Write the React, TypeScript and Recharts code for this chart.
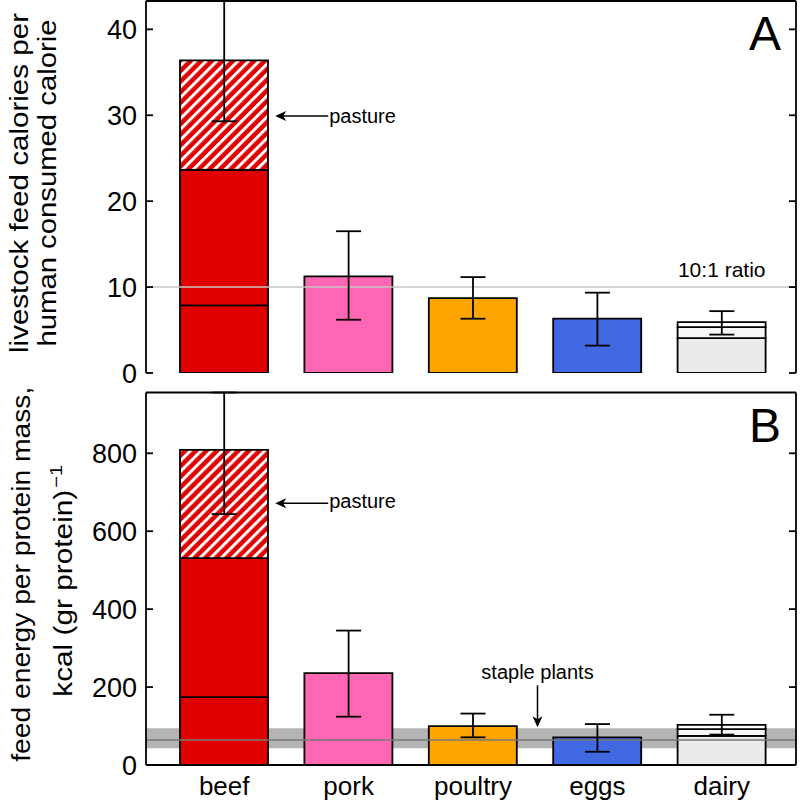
import React from 'react';
import {
  ComposedChart,
  Bar,
  Cell,
  XAxis,
  YAxis,
  Scatter,
  ErrorBar,
  ReferenceLine,
  ReferenceArea,
  ReferenceDot,
} from 'recharts';

const FONT = '"Liberation Sans", Arial, Helvetica, sans-serif';

const categories = ['beef', 'pork', 'poultry', 'eggs', 'dairy'];
const baseColors = ['#e00000', '#ff66b3', '#ffa500', '#4169e1', '#ebebeb'];
const midColors = ['#e00000', '#ffffff', '#ffffff', '#ffffff', '#f6f6f6'];
const topColors = ['hatch', '#ffffff', '#ffffff', '#ffffff', '#ffffff'];

// panel A: feed calories per human consumed calorie (cumulative stack levels)
const ratioBase = [7.87, 11.24, 8.72, 6.32, 4.07];
const ratioMid = [23.65, null, null, null, 5.35];
const ratioTop = [36.4, null, null, null, 5.93];
const ratioErrLow = [29.3, 6.2, 6.32, 3.19, 4.47];
const ratioErrHigh = [43.3, 16.5, 11.16, 9.35, 7.2]; // beef runs off the top
const ratioTicks = [0, 10, 20, 30, 40];
const ratioMax = 43.3;
const tenToOne = 10;
const ratioPasture = 29.9;

// panel B: feed energy per protein mass
const proteinBase = [174, 236, 100, 71, 74.5];
const proteinMid = [531, null, null, null, 92];
const proteinTop = [809, null, null, null, 103];
const proteinErrLow = [644, 124, 71, 34, 78];
const proteinErrHigh = [956, 345, 132, 105, 129]; // beef runs off the top
const proteinTicks = [0, 200, 400, 600, 800];
const proteinMax = 956;
const stapleBand = [43, 94];
const stapleLine = 64;
const proteinPasture = 672;

function buildRows(base: number[], mid: (number | null)[], top: (number | null)[], lo: number[], hi: number[]) {
  return categories.map((name, i) => {
    const m = mid[i];
    const t = top[i];
    const total = t ?? m ?? base[i];
    return {
      name,
      s1: base[i],
      s2: m != null ? m - base[i] : 0,
      s3: t != null ? t - (m ?? base[i]) : 0,
      total,
      err: [total - lo[i], hi[i] - total],
    };
  });
}

const ratioRows = buildRows(ratioBase, ratioMid, ratioTop, ratioErrLow, ratioErrHigh);
const proteinRows = buildRows(proteinBase, proteinMid, proteinTop, proteinErrLow, proteinErrHigh);

const LINE = 1.8;

function LeftTick({ x, y, payload }: any) {
  return (
    <g>
      <line x1={x + 9} x2={x + 16} y1={y} y2={y} stroke="#000" strokeWidth={LINE} />
      <text x={x} y={y + 9.5} textAnchor="end" fontSize={27} fontFamily={FONT} fill="#000">
        {payload.value}
      </text>
    </g>
  );
}

function RightTick({ x, y }: any) {
  return <line x1={x - 7} x2={x} y1={y} y2={y} stroke="#000" strokeWidth={LINE} />;
}

function PastureNote({ cx, cy, dy }: any) {
  return (
    <g>
      <line x1={cx + 58} x2={cx + 104} y1={cy} y2={cy} stroke="#000" strokeWidth={1.5} />
      <path d={`M${cx + 51},${cy} l11,-5 l-3,5 l3,5 z`} fill="#000" />
      <text x={cx + 105} y={cy + dy} fontSize={20} fontFamily={FONT} fill="#000">
        pasture
      </text>
    </g>
  );
}

function StapleNote({ cx, cy }: any) {
  const ax = cx + 64.5;
  return (
    <g>
      <line x1={ax} x2={ax} y1={cy - 43} y2={cy - 8} stroke="#000" strokeWidth={1.5} />
      <path d={`M${ax},${cy - 1} l-5,-11 l5,3 l5,-3 z`} fill="#000" />
      <text x={ax} y={cy - 49.5} textAnchor="middle" fontSize={20} fontFamily={FONT} fill="#000">
        staple plants
      </text>
    </g>
  );
}

function ratioTitle({ viewBox }: any) {
  const cy = viewBox.y + viewBox.height / 2 - 4;
  return (
    <g fontFamily={FONT} fill="#000" fontSize={25}>
      <text transform={`translate(27.5,${cy}) rotate(-90)`} textAnchor="middle" textLength={340} lengthAdjust="spacingAndGlyphs">
        livestock feed calories per
      </text>
      <text transform={`translate(55.5,${cy}) rotate(-90)`} textAnchor="middle" textLength={327} lengthAdjust="spacingAndGlyphs">
        human consumed calorie
      </text>
    </g>
  );
}

function proteinTitle({ viewBox }: any) {
  const cy = viewBox.y + viewBox.height / 2;
  return (
    <g fontFamily={FONT} fill="#000">
      <text transform={`translate(30,${cy - 4.5}) rotate(-90)`} textAnchor="middle" fontSize={25} textLength={375} lengthAdjust="spacingAndGlyphs">
        feed energy per protein mass,
      </text>
      <g transform={`translate(71.7,${cy + 118}) rotate(-90)`}>
        <text x={0} y={0} fontSize={25} textLength={207} lengthAdjust="spacingAndGlyphs">
          kcal (gr protein)
        </text>
        <text x={209} y={-10} fontSize={17} textLength={23} lengthAdjust="spacingAndGlyphs">
          −1
        </text>
      </g>
    </g>
  );
}

function panelLetter(letter: string) {
  return ({ viewBox }: any) => (
    <text x={viewBox.x - 31} y={viewBox.y + 49} textAnchor="middle" fontSize={48} fontFamily={FONT} fill="#000">
      {letter}
    </text>
  );
}

type PanelProps = {
  rows: any[];
  yMax: number;
  ticks: number[];
  hatchId: string;
  title: any;
  letter: string;
  height: number;
  top: number;
  bottom: number;
  showLabels: boolean;
  pastureY: number;
  pastureDy: number;
  ratioLine?: number;
  band?: number[];
  bandLine?: number;
};

function Panel(p: PanelProps) {
  const axisLine = { stroke: '#000', strokeWidth: LINE };
  const fillFor = (c: string) => (c === 'hatch' ? `url(#${p.hatchId})` : c);
  return (
    <ComposedChart
      width={800}
      height={p.height}
      data={p.rows}
      margin={{ top: p.top, right: 0, bottom: p.bottom, left: 0 }}
      style={{ fontFamily: FONT }}
    >
      <defs>
        <pattern id={p.hatchId} patternUnits="userSpaceOnUse" width={7.5} height={7.5} patternTransform="rotate(45)">
          <rect width={7.5} height={7.5} fill="#e00000" />
          <rect width={3} height={7.5} fill="#ffffff" />
        </pattern>
      </defs>
      <XAxis
        dataKey="name"
        type="category"
        padding={{ left: 16, right: 12 }}
        tickLine={false}
        axisLine={axisLine}
        tick={p.showLabels ? { fill: '#000', fontSize: 26, fontFamily: FONT } : false}
        height={p.showLabels ? 35 : 0}
        tickSize={0}
        tickMargin={12}
        interval={0}
      />
      <XAxis xAxisId="frame" orientation="top" dataKey="name" tick={false} tickLine={false} axisLine={false} height={0} />
      <YAxis
        domain={[0, p.yMax]}
        allowDataOverflow
        ticks={p.ticks}
        interval={0}
        width={146}
        tickLine={false}
        tickSize={6}
        tickMargin={3}
        axisLine={axisLine}
        tick={(t: any) => <LeftTick {...t} />}
        label={p.title}
      />
      <YAxis
        yAxisId="r"
        orientation="right"
        domain={[0, p.yMax]}
        allowDataOverflow
        ticks={p.ticks}
        interval={0}
        width={4}
        tickLine={false}
        tickSize={0}
        tickMargin={0}
        axisLine={axisLine}
        tick={(t: any) => <RightTick {...t} />}
        label={panelLetter(p.letter)}
      />
      {p.band && (
        <ReferenceArea xAxisId="frame" y1={p.band[0]} y2={p.band[1]} fill="#b4b4b4" fillOpacity={1} stroke="none" />
      )}
      {p.bandLine != null && <ReferenceLine xAxisId="frame" y={p.bandLine} stroke="#7a7a7a" strokeWidth={1.5} />}
      {p.ratioLine != null && (
        <ReferenceLine
          xAxisId="frame"
          y={p.ratioLine}
          stroke="#c4c4c4"
          strokeWidth={1.5}
          label={({ viewBox }: any) => (
            <text x={viewBox.x + viewBox.width - 30.5} y={viewBox.y - 9.7} textAnchor="end" fontSize={21} fontFamily={FONT} fill="#000">
              10:1 ratio
            </text>
          )}
        />
      )}
      <Bar dataKey="s1" stackId="a" barSize={88} stroke="#000" strokeWidth={LINE} isAnimationActive={false}>
        {p.rows.map((_, i) => (
          <Cell key={i} fill={fillFor(baseColors[i])} />
        ))}
      </Bar>
      <Bar dataKey="s2" stackId="a" barSize={88} stroke="#000" strokeWidth={LINE} isAnimationActive={false}>
        {p.rows.map((_, i) => (
          <Cell key={i} fill={fillFor(midColors[i])} />
        ))}
      </Bar>
      <Bar dataKey="s3" stackId="a" barSize={88} stroke="#000" strokeWidth={LINE} isAnimationActive={false}>
        {p.rows.map((_, i) => (
          <Cell key={i} fill={fillFor(topColors[i])} />
        ))}
      </Bar>
      <Scatter dataKey="total" isAnimationActive={false} shape={() => <g />}>
        <ErrorBar dataKey="err" direction="y" width={12.5} stroke="#000" strokeWidth={LINE} />
      </Scatter>
      {/* top edge of the frame */}
      <ReferenceLine xAxisId="frame" y={p.yMax} stroke="#000" strokeWidth={LINE} />
      <ReferenceDot x="beef" y={p.pastureY} shape={(s: any) => <PastureNote {...s} dy={p.pastureDy} />} />
      {p.band && <ReferenceDot x="poultry" y={p.band[1]} shape={(s: any) => <StapleNote {...s} />} />}
    </ComposedChart>
  );
}

export default function App() {
  return (
    <div style={{ position: 'absolute', left: 0, top: 0, width: 800, height: 800, background: '#fff' }}>
      <div style={{ position: 'absolute', left: 0, top: 0 }}>
        <Panel
          rows={ratioRows}
          yMax={ratioMax}
          ticks={ratioTicks}
          hatchId="hatchA"
          title={ratioTitle}
          letter="A"
          height={392}
          top={1}
          bottom={19}
          showLabels={false}
          pastureY={ratioPasture}
          pastureDy={6.5}
          ratioLine={tenToOne}
        />
      </div>
      <div style={{ position: 'absolute', left: 0, top: 374 }}>
        <Panel
          rows={proteinRows}
          yMax={proteinMax}
          ticks={proteinTicks}
          hatchId="hatchB"
          title={proteinTitle}
          letter="B"
          height={426}
          top={18.5}
          bottom={0}
          showLabels
          pastureY={proteinPasture}
          pastureDy={5}
          band={stapleBand}
          bandLine={stapleLine}
        />
      </div>
    </div>
  );
}
